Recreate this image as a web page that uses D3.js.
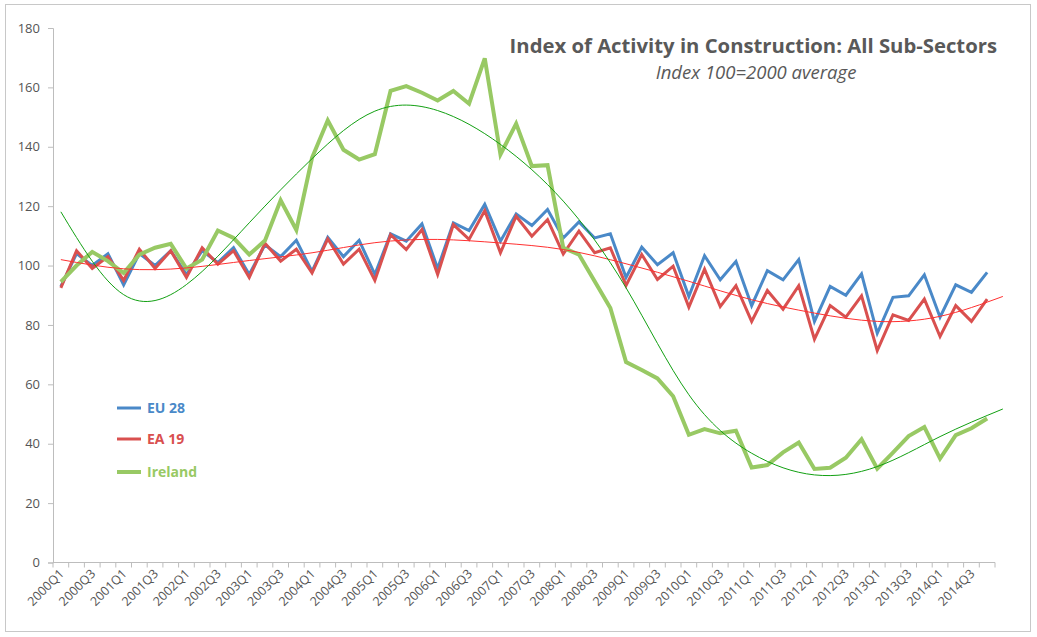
<!DOCTYPE html>
<html>
<head>
<meta charset="utf-8">
<script src="https://cdn.jsdelivr.net/npm/d3@7"></script>
<style>
  body { margin: 0; background: #fff; }
  text { font-family: "Open Sans", "Liberation Sans", sans-serif; }
</style>
</head>
<body>
<svg id="chart" width="1037" height="637"></svg>
<script>
// quarters 2000Q1..2014Q4
var quarters = [];
for (var yr = 2000; yr <= 2014; yr++) for (var q = 1; q <= 4; q++) quarters.push(yr + "Q" + q);

var eu28 = [93,104,100,104,93.5,104,100,105,97,105,101,106,97,107,103,108.5,98,109.5,103,108.5,
  97,110.7,108.2,114,99,114.4,111.8,120.6,108.2,117.4,113.5,118.9,109.3,114.7,109.3,110.7,96,106.2,100.3,104.3,
  89.6,103.3,95.2,101.4,86.5,98.3,95.2,102,81.2,93,90,97.2,77.2,89.3,89.8,96.9,82.6,93.5,91,97.7];
var ea19 = [92.5,105,99,103,95,105.5,99,105,96,106,100.5,105,96,107.5,101.5,105.5,97.5,109,100.5,105.5,
  95,110.4,105.4,112.1,97,113.8,108.8,118.5,104.3,116.6,109.9,115.5,103.9,111.6,104.3,106,93.3,103.7,95.3,99.8,
  86,98.8,86.2,93.2,81.2,91.6,85.3,93.2,75.2,86.5,82.6,89.8,71.4,83.4,81.5,88.7,76.1,86.5,81.2,88.7];
var ireland = [94.5,100,104.6,101.5,97.5,103.7,106,107.3,99,102,111.8,109.3,103.7,108.4,122,112,136.3,148.9,139,135.7,
  137.5,158.8,160.4,158.2,155.6,158.8,154.5,169.8,137.4,147.8,133.5,133.8,106,103.7,94.7,85.7,67.5,64.8,62,56,
  43,44.9,43.5,44.4,32,32.8,37.1,40.4,31.5,31.9,35.3,41.5,31.6,37,42.6,45.6,35,42.9,45.2,48.5];

// trendlines read every 4 quarters (index 0..60)
var trendIdx = [0,4,8,12,16,20,24,28,32,36,40,44,48,52,56,60];
var trendRed = [102,98.9,99.2,101.7,104.3,107.7,108.8,107.6,105.4,100.6,94.7,88.5,84,81.2,82.9,89.6];
var trendGreen = [118.1,90.2,93.6,114.4,136,152,152.2,140.8,121.7,92.5,56.5,36.8,29.5,32.3,42.4,51.7];

var yTicks = [0,20,40,60,80,100,120,140,160,180];

var svg = d3.select("#chart");
svg.append("rect").attr("x", 5.5).attr("y", 4.5).attr("width", 1025).attr("height", 627)
  .attr("fill", "none").attr("stroke", "#c8c8c8");

var x = d3.scaleLinear().domain([-0.5, 59.5]).range([53, 995]);
var y = d3.scaleLinear().domain([0, 180]).range([562.5, 28]);

// y axis
var gy = svg.append("g").attr("transform", "translate(53,0)")
  .call(d3.axisLeft(y).tickValues(yTicks).tickSize(5).tickPadding(8));
gy.selectAll("line,path").attr("stroke", "#bdbdbd");
gy.selectAll("text").attr("fill", "#555").style("font-size", "13px");

// x axis
var gx = svg.append("g").attr("transform", "translate(0,562.5)");
gx.append("line").attr("x1", 53).attr("x2", 995).attr("stroke", "#bdbdbd");
d3.range(61).forEach(function(k) {
  gx.append("line").attr("x1", x(k - 0.5)).attr("x2", x(k - 0.5)).attr("y1", 0).attr("y2", 5).attr("stroke", "#bdbdbd");
});
quarters.forEach(function(q, i) {
  if (i % 2) return;
  gx.append("text").attr("transform", "translate(" + (x(i) + 4) + ",12) rotate(-45)")
    .attr("text-anchor", "end").attr("fill", "#555").style("font-size", "12.5px").text(q);
});

var line = d3.line().x(function(d, i) { return x(i); }).y(function(d) { return y(d); });
var tline = d3.line().x(function(d, i) { return x(trendIdx[i]); }).y(function(d) { return y(d); })
  .curve(d3.curveNatural);

svg.append("path").attr("d", line(eu28)).attr("fill", "none").attr("stroke", "#4a89c8").attr("stroke-width", 3);
svg.append("path").attr("d", line(ea19)).attr("fill", "none").attr("stroke", "#d9504f").attr("stroke-width", 3);
svg.append("path").attr("d", line(ireland)).attr("fill", "none").attr("stroke", "#98c964").attr("stroke-width", 4);
svg.append("path").attr("d", tline(trendRed)).attr("fill", "none").attr("stroke", "#ff3030").attr("stroke-width", 1);
svg.append("path").attr("d", tline(trendGreen)).attr("fill", "none").attr("stroke", "#12a012").attr("stroke-width", 1);

// legend
var legend = [["EU 28", "#4a89c8", 3, 408], ["EA 19", "#d9504f", 3, 439], ["Ireland", "#98c964", 4, 472]];
legend.forEach(function(l) {
  svg.append("line").attr("x1", 117).attr("x2", 141).attr("y1", l[3]).attr("y2", l[3])
    .attr("stroke", l[1]).attr("stroke-width", l[2]);
  svg.append("text").attr("x", 147).attr("y", l[3] + 5).attr("fill", l[1])
    .style("font-size", "14px").style("font-weight", "bold").text(l[0]);
});

svg.append("text").attr("x", 997).attr("y", 53).attr("text-anchor", "end").attr("fill", "#595959")
  .style("font-size", "20.3px").style("font-weight", "bold").text("Index of Activity in Construction: All Sub-Sectors");
svg.append("text").attr("x", 756).attr("y", 79).attr("text-anchor", "middle").attr("fill", "#595959")
  .style("font-size", "18.5px").style("font-style", "italic").text("Index 100=2000 average");
</script>
</body>
</html>
